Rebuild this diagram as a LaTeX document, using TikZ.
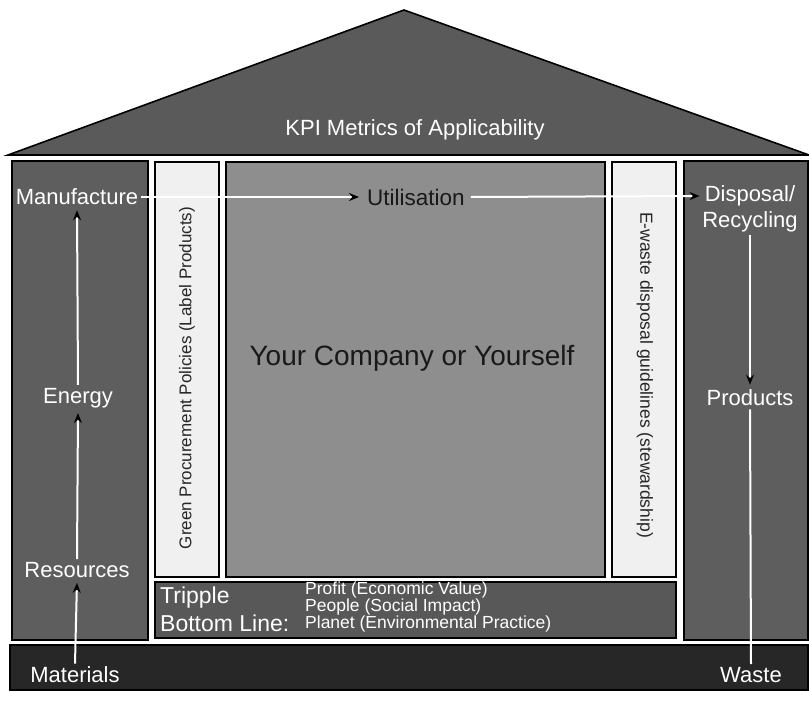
\documentclass[tikz,border=0pt]{standalone}
\usepackage{fontspec}
\setmainfont{Liberation Sans}
\usetikzlibrary{arrows.meta}
\definecolor{roofgray}{HTML}{5A5A5A}
\definecolor{colgray}{HTML}{5E5E5E}
\definecolor{midgray}{HTML}{8E8E8E}
\definecolor{panelwhite}{HTML}{F0F0F0}
\definecolor{tripgray}{HTML}{585858}
\definecolor{basegray}{HTML}{272727}
\tikzset{
  boxstyle/.style={draw=black, line width=1.6pt},
  lbl/.style={text=white, font=\fontsize{22}{24}\selectfont, inner sep=3pt},
  darklbl/.style={text=black!90, font=\fontsize{22.5}{24}\selectfont, inner sep=3pt},
  flow/.style={draw=white, line width=2pt, -{Stealth[color=black,fill=black,length=10pt,width=8pt]}, shorten >=2pt},
  plainflow/.style={draw=white, line width=2pt},
}
\begin{document}
\begin{tikzpicture}[x=1pt,y=1pt]
\useasboundingbox[fill=white] (0,0) rectangle (809,705);
% roof
\filldraw[fill=roofgray, draw=black, line width=1.6pt] (8,550) -- (404,695) -- (809,550) -- cycle;
\node[lbl] (kpi) at (415,575) {KPI Metrics of Applicability};
% columns and panels
\filldraw[boxstyle, fill=colgray] (12,65) rectangle (148,544);
\filldraw[boxstyle, fill=panelwhite] (155,128) rectangle (219,543);
\filldraw[boxstyle, fill=midgray] (226,128) rectangle (605,543);
\filldraw[boxstyle, fill=panelwhite] (612,128) rectangle (676,543);
\filldraw[boxstyle, fill=colgray] (684,65) rectangle (808,544);
\filldraw[boxstyle, fill=tripgray] (155,67) rectangle (676,123);
\filldraw[boxstyle, fill=basegray] (10,15) rectangle (808,60);
% texts
\node[lbl] (manu) at (77,508) {Manufacture};
\node[lbl] (energy) at (78,307) {Energy};
\node[lbl] (res) at (77,135) {Resources};
\node[lbl] (mat) at (75,30) {Materials};
\node[lbl] (disp) at (750,509) {Disposal/};
\node[lbl] (rec) at (750,483) {Recycling};
\node[lbl] (prod) at (750,307) {Products};
\node[lbl] (waste) at (751,30) {Waste};
\node[darklbl, inner sep=6pt] (util) at (416,508) {Utilisation};
\node[text=black!90, font=\fontsize{28}{30}\selectfont] (comp) at (412,347) {Your Company or Yourself};
\node[rotate=90, text=black!85, font=\fontsize{17}{20}\selectfont] (green) at (187,327) {Green Procurement Policies (Label Products)};
\node[rotate=-90, text=black!85, font=\fontsize{17.5}{20}\selectfont] (ewaste) at (645,330) {E-waste disposal guidelines (stewardship)};
\node[lbl, anchor=west, font=\fontsize{23}{24}\selectfont] (trip) at (157,107) {Tripple};
\node[lbl, anchor=west, font=\fontsize{23}{24}\selectfont] (bottom) at (157,82) {Bottom Line:};
\node[anchor=west, align=left, text=white, font=\fontsize{17.5}{15}\selectfont, inner sep=0pt] (ppp) at (305,98) {Profit (Economic Value)\\People (Social Impact)\\Planet (Environmental Practice)};
% connectors
\draw[flow] (manu.east) -- (util.west);
\draw[flow] (util.east) -- (disp.west);
\draw[flow] (energy.north) -- (manu.south);
\draw[flow] (res.north) -- (energy.south);
\draw[flow] (mat.north) -- (res.south);
\draw[flow] (rec.south) -- (prod.north);
\draw[plainflow] (prod.south) -- (waste.north);
\end{tikzpicture}
\end{document}
